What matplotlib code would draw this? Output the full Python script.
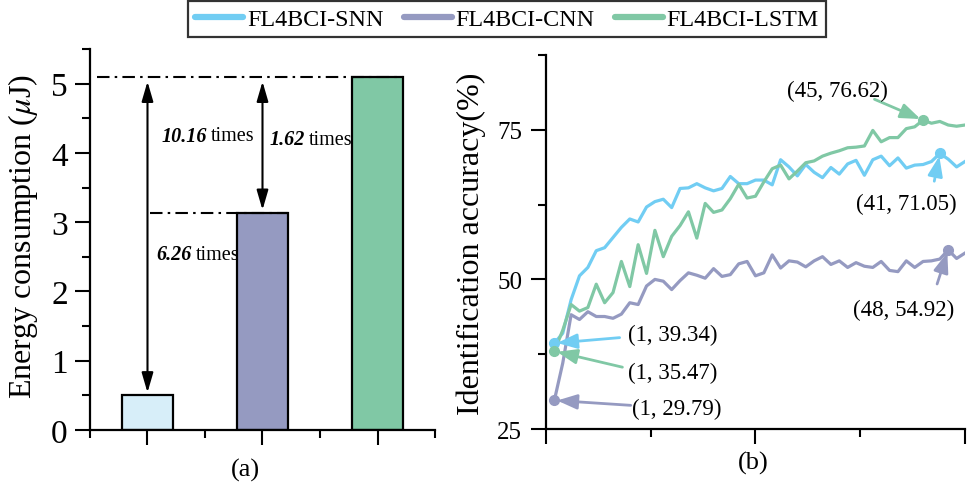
import numpy as np
import matplotlib
matplotlib.use('Agg')
import matplotlib.pyplot as plt
from matplotlib.lines import Line2D
from matplotlib.ticker import MultipleLocator, NullFormatter

plt.rcParams['font.family'] = ['Liberation Serif', 'DejaVu Serif']
plt.rcParams['mathtext.fontset'] = 'stix'

# (a) energy consumption of the three models
models = ['FL4BCI-SNN', 'FL4BCI-CNN', 'FL4BCI-LSTM']
energy = [0.501, 3.137, 5.09]
ratio_labels = ['10.16', '1.62', '6.26']

# (b) identification accuracy per round
epochs = list(range(1, 51))
acc_snn = [39.34, 41.0, 46.6, 50.6, 52.0, 54.8, 55.3, 57.0, 58.7, 60.1,
           59.6, 62.1, 63.0, 63.4, 62.0, 65.2, 65.3, 66.0, 65.3, 64.8,
           65.2, 67.2, 66.0, 66.0, 66.6, 66.6, 65.8, 70.0, 68.8, 67.3,
           69.2, 67.9, 67.0, 68.7, 67.6, 69.3, 69.9, 67.4, 70.0, 70.6,
           69.0, 70.3, 68.6, 69.1, 69.2, 69.7, 71.05, 70.1, 68.8, 69.7]
acc_cnn = [29.79, 36.0, 44.1, 43.3, 44.6, 43.8, 43.8, 43.5, 44.2, 46.1,
           45.8, 48.9, 50.0, 49.7, 48.3, 49.8, 51.1, 50.7, 50.2, 51.8,
           50.5, 50.8, 52.6, 53.0, 50.6, 51.1, 54.1, 51.9, 53.1, 52.9,
           52.1, 53.1, 53.8, 52.5, 53.1, 52.0, 52.8, 52.2, 52.0, 53.0,
           51.5, 51.3, 53.1, 52.0, 53.0, 53.1, 53.4, 54.92, 53.5, 54.4]
acc_lstm = [38.0, 41.5, 45.8, 44.7, 45.3, 49.2, 46.1, 47.8, 53.0, 48.8,
            55.8, 51.0, 58.2, 53.8, 57.2, 59.0, 61.3, 56.9, 62.7, 61.2,
            61.6, 63.5, 65.9, 63.6, 63.9, 66.3, 68.5, 69.1, 66.8, 68.1,
            69.5, 69.8, 70.6, 71.1, 71.5, 72.0, 72.1, 72.3, 74.9, 73.0,
            73.7, 73.7, 75.2, 75.5, 76.62, 76.1, 76.4, 75.8, 75.6, 75.8]

c_snn = '#71CDF3'
c_cnn = '#959AC1'
c_lstm = '#80C8A5'
c_bar = ['#D7EEF9', c_cnn, c_lstm]

fig = plt.figure(figsize=(9.76, 4.85), dpi=100)
ax1 = fig.add_axes([0.0922, 0.1113, 0.3535, 0.7856])
ax2 = fig.add_axes([0.5594, 0.1134, 0.4293, 0.7711])

for ax in (ax1, ax2):
    ax.spines['top'].set_visible(False)
    ax.spines['right'].set_visible(False)
    ax.spines['left'].set_linewidth(1.6)
    ax.spines['bottom'].set_linewidth(1.6)
    ax.tick_params(which='major', direction='out', length=11, width=1.5)
    ax.tick_params(which='minor', direction='out', length=5.5, width=1.5)

# ---- (a) bars ----
xs = np.arange(1, len(models) + 1)
ax1.bar(xs, energy, width=0.44, color=c_bar, edgecolor='black', linewidth=1.6, zorder=2)
ax1.set_xlim(0.5, 3.5)
ax1.set_ylim(0, 5.5)
ax1.xaxis.set_major_locator(MultipleLocator(1))
ax1.xaxis.set_minor_locator(MultipleLocator(0.5))
ax1.xaxis.set_major_formatter(NullFormatter())
ax1.yaxis.set_major_locator(MultipleLocator(1))
ax1.yaxis.set_minor_locator(MultipleLocator(0.5))
ax1.tick_params(axis='y', labelsize=24, pad=5)

# dash-dot reference lines
ax1.plot([0.56, xs[2] + 0.22], [energy[2]] * 2, color='black', lw=1.5,
         dashes=(6, 2.5, 1.2, 2.5))
ax1.plot([1.02, xs[1] + 0.22], [energy[1]] * 2, color='black', lw=1.5,
         dashes=(6, 2.5, 1.2, 2.5))

arrow = dict(arrowstyle='<|-|>,head_length=1.2,head_width=0.35', color='black',
             lw=1.5, shrinkA=0, shrinkB=0)
ax1.annotate('', xy=(xs[0], energy[2] - 0.06), xytext=(xs[0], energy[0] + 0.04),
             arrowprops=arrow)
ax1.annotate('', xy=(xs[1], energy[2] - 0.06), xytext=(xs[1], energy[1] + 0.04),
             arrowprops=arrow)

ratio_pos = [(1.517, 4.25), (2.37, 4.2), (1.387, 2.54)]
for lab, (tx, ty) in zip(ratio_labels, ratio_pos):
    ax1.text(tx, ty, lab, ha='right', va='center', fontsize=14.5,
             fontweight='bold', style='italic')
    ax1.text(tx + 0.03, ty, 'times', ha='left', va='center', fontsize=14.5)

fig.text(23 / 976, 1 - 237 / 485, r'Energy consumption ($\mu$J)', rotation=90,
         ha='center', va='center', fontsize=23)
fig.text(245 / 976, 1 - 470 / 485, '(a)', ha='center', va='center', fontsize=19)

# ---- (b) accuracy curves ----
ax2.plot(epochs, acc_snn, color=c_snn, lw=2.3)
ax2.plot(epochs, acc_cnn, color=c_cnn, lw=2.3)
ax2.plot(epochs, acc_lstm, color=c_lstm, lw=2.3)
ax2.set_xlim(0, 50)
ax2.set_ylim(25, 87.5)
ax2.xaxis.set_major_locator(MultipleLocator(25))
ax2.xaxis.set_minor_locator(MultipleLocator(12.5))
ax2.xaxis.set_major_formatter(NullFormatter())
ax2.yaxis.set_major_locator(MultipleLocator(25))
ax2.yaxis.set_minor_locator(MultipleLocator(12.5))
ax2.tick_params(axis='y', labelsize=18, pad=6)

# (series, index, text, arrow start offset pt, text offset pt)
notes = [
    (acc_snn, c_snn, 0, '(1, 39.34)', (47, 4), (85, 6.5)),
    (acc_lstm, c_lstm, 0, '(1, 35.47)', (49, -11.5), (85, -15)),
    (acc_cnn, c_cnn, 0, '(1, 29.79)', (55, -3.6), (88, -6)),
    (acc_lstm, c_lstm, 44, '(45, 76.62)', (-35, 15), (-62, 21.6)),
    (acc_snn, c_snn, 46, '(41, 71.05)', (-4, -20), (-24, -36)),
    (acc_cnn, c_cnn, 47, '(48, 54.92)', (-8, -24.5), (-32, -43)),
]
for ys, c, i, txt, aoff, toff in notes:
    px, py = epochs[i], ys[i]
    ax2.plot(px, py, 'o', color=c, ms=7, zorder=4)
    ax2.annotate('', xy=(px, py), xytext=aoff, textcoords='offset points',
                 arrowprops=dict(arrowstyle='-|>,head_length=1.2,head_width=0.45',
                                 color=c, lw=2, shrinkA=0, shrinkB=2))
    ax2.annotate(txt, xy=(px, py), xytext=toff, textcoords='offset points',
                 ha='center', va='center', fontsize=16.5)

fig.text(471 / 976, 1 - 244 / 485, 'Identification accuracy(%)', rotation=90,
         ha='center', va='center', fontsize=23)
fig.text(753 / 976, 1 - 463 / 485, '(b)', ha='center', va='center', fontsize=19)

# ---- legend ----
handles = [Line2D([], [], color=c, lw=4.5, solid_capstyle='round')
           for c in (c_snn, c_cnn, c_lstm)]
leg = fig.legend(handles, models, loc='upper center', bbox_to_anchor=(507 / 976, 1.0),
                 ncol=3, fontsize=17.3, frameon=True, fancybox=False,
                 handlelength=2.0, handletextpad=0.15, columnspacing=0.85,
                 borderpad=0.28, borderaxespad=0.1)
leg.get_frame().set_edgecolor('black')
leg.get_frame().set_linewidth(1.6)

fig.savefig('out.png', dpi=100)
